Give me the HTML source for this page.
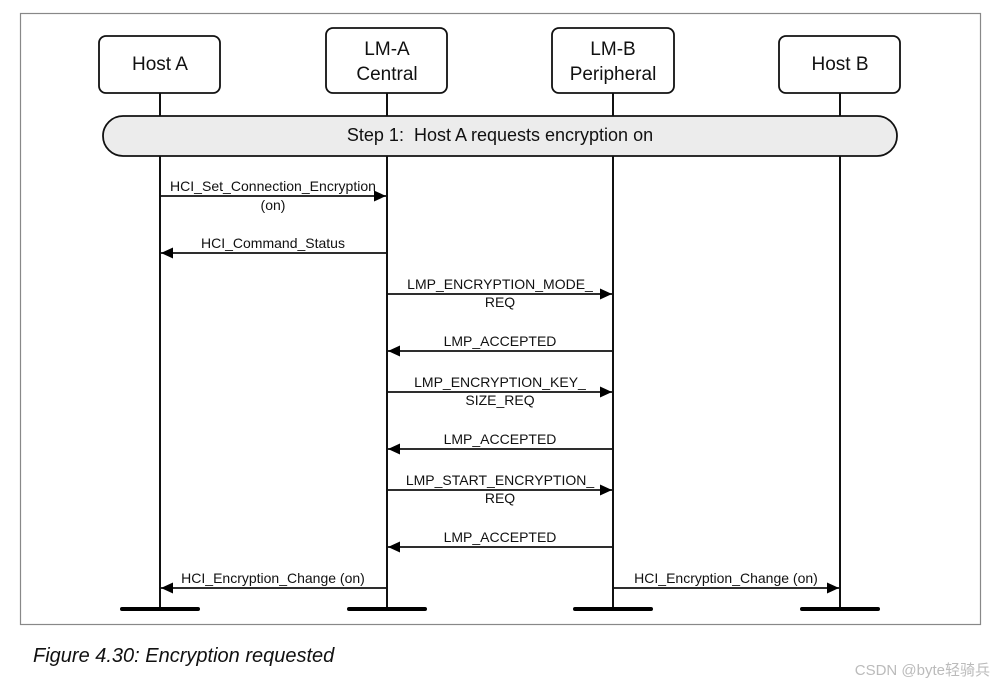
<!DOCTYPE html>
<html><head><meta charset="utf-8"><style>
html,body{margin:0;padding:0;background:#fff;}
svg{display:block;}
text{font-family:"Liberation Sans",Arial,sans-serif;fill:#111;}
</style></head><body>
<svg width="994" height="687" viewBox="0 0 994 687" xmlns="http://www.w3.org/2000/svg">
<defs>
<marker id="ah" markerWidth="12" markerHeight="12" refX="12" refY="5.5" orient="auto" markerUnits="userSpaceOnUse">
<path d="M0,0 L12,5.5 L0,11 z" fill="#000"/></marker>
</defs>
<rect x="20.5" y="13.5" width="960" height="611" fill="#fff" stroke="#888" stroke-width="1.2"/>
<g stroke="#111" stroke-width="2">
<line x1="160" y1="93" x2="160" y2="609"/>
<line x1="387" y1="93" x2="387" y2="609"/>
<line x1="613" y1="93" x2="613" y2="609"/>
<line x1="840" y1="93" x2="840" y2="609"/>
</g>
<g stroke="#000" stroke-width="4" stroke-linecap="round">
<line x1="122" y1="609" x2="198" y2="609"/>
<line x1="349" y1="609" x2="425" y2="609"/>
<line x1="575" y1="609" x2="651" y2="609"/>
<line x1="802" y1="609" x2="878" y2="609"/>
</g>
<g fill="#fff" stroke="#111" stroke-width="1.8">
<rect x="99" y="36" width="121" height="57" rx="7"/>
<rect x="326" y="28" width="121" height="65" rx="7"/>
<rect x="552" y="28" width="122" height="65" rx="7"/>
<rect x="779" y="36" width="121" height="57" rx="7"/>
<rect x="103" y="116" width="794" height="40" rx="20" fill="#ececec"/>
</g>
<g font-size="19" text-anchor="middle">
<text x="160" y="70">Host A</text>
<text x="387" y="55">LM-A</text>
<text x="387" y="80">Central</text>
<text x="613" y="55">LM-B</text>
<text x="613" y="80">Peripheral</text>
<text x="840" y="70">Host B</text>
</g>
<text x="500" y="141" font-size="18" text-anchor="middle" xml:space="preserve">Step 1:  Host A requests encryption on</text>
<g stroke="#111" stroke-width="1.8" marker-end="url(#ah)">
<line x1="160" y1="196" x2="386" y2="196"/>
<line x1="387" y1="253" x2="161" y2="253"/>
<line x1="387" y1="294" x2="612" y2="294"/>
<line x1="613" y1="351" x2="388" y2="351"/>
<line x1="387" y1="392" x2="612" y2="392"/>
<line x1="613" y1="449" x2="388" y2="449"/>
<line x1="387" y1="490" x2="612" y2="490"/>
<line x1="613" y1="547" x2="388" y2="547"/>
<line x1="387" y1="588" x2="161" y2="588"/>
<line x1="613" y1="588" x2="839" y2="588"/>
</g>
<g font-size="14" text-anchor="middle">
<text x="273" y="191" textLength="206" lengthAdjust="spacingAndGlyphs">HCI_Set_Connection_Encryption</text>
<text x="273" y="210">(on)</text>
<text x="273" y="248">HCI_Command_Status</text>
<text x="500" y="289">LMP_ENCRYPTION_MODE_</text>
<text x="500" y="307">REQ</text>
<text x="500" y="346">LMP_ACCEPTED</text>
<text x="500" y="387">LMP_ENCRYPTION_KEY_</text>
<text x="500" y="405">SIZE_REQ</text>
<text x="500" y="444">LMP_ACCEPTED</text>
<text x="500" y="485">LMP_START_ENCRYPTION_</text>
<text x="500" y="503">REQ</text>
<text x="500" y="542">LMP_ACCEPTED</text>
<text x="273" y="583">HCI_Encryption_Change (on)</text>
<text x="726" y="583">HCI_Encryption_Change (on)</text>
</g>
<text x="33" y="662" font-size="20" font-style="italic">Figure 4.30: Encryption requested</text>
<text x="990" y="675" font-size="15" style="fill:#bbb;font-family:'Liberation Sans','Noto Sans CJK SC',sans-serif" text-anchor="end">CSDN @byte轻骑兵</text>
</svg>
</body></html>
